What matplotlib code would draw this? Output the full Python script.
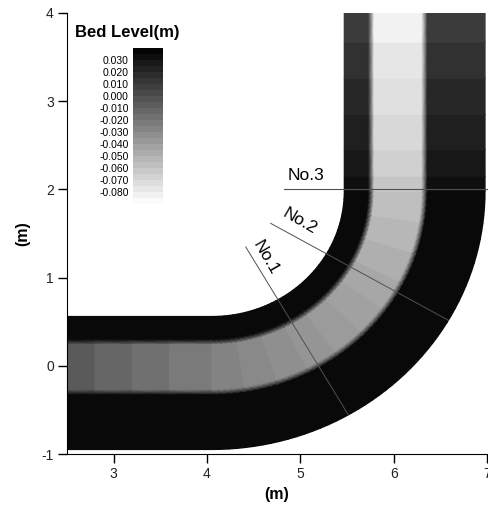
import numpy as np
import matplotlib
matplotlib.use('Agg')
import matplotlib.pyplot as plt
from matplotlib.colors import Normalize

plt.rcParams['font.family'] = ['Liberation Sans', 'DejaVu Sans']
plt.rcParams['axes.unicode_minus'] = False

# ---- channel geometry (m) ----
xc, yc = 4.05, 1.98          # centre of the 90 deg bend
r_in, width = 1.42, 1.51     # inner bank radius, channel width

# streamwise cell edges of the three reaches
lower_x = [2.5, 2.8, 3.2, 3.6, 4.05]
bend_deg = [-90, -81, -72, -63, -54, -45, -36, -27, -18, -9, 0]
upper_y = [1.98, 2.15, 2.45, 2.85, 3.26, 3.67, 4.0]

# bed level in the scour trough and on the bank bars, per cell (m)
lower_trough = [-0.006, -0.012, -0.017, -0.022]
bend_trough = [-0.027, -0.030, -0.033, -0.036, -0.039, -0.042, -0.045, -0.049, -0.053, -0.057]
upper_trough = [-0.061, -0.066, -0.070, -0.074, -0.077, -0.083]
lower_bank = [0.035, 0.035, 0.035, 0.035]
bend_bank = [0.035, 0.035, 0.035, 0.035, 0.035, 0.035, 0.035, 0.035, 0.035, 0.035]
upper_bank = [0.032, 0.028, 0.024, 0.020, 0.015, 0.010]

# cross-section: distance from inner bank and share of trough level
cross_n = [0.0, 0.26, 0.32, 0.83, 0.89, 1.51]
cross_w = [0.0, 0.0, 1.0, 1.0, 0.0, 0.0]

# legend
cbar_ticks = [0.030, 0.020, 0.010, 0.000, -0.010, -0.020, -0.030,
              -0.040, -0.050, -0.060, -0.070, -0.080]
vmin, vmax = -0.09, 0.04

# measuring sections: name, angle in bend (deg)
sec_names = ['No.1', 'No.2']
sec_deg = [-60, -30]
sec3_y = 2.0

n = np.array(cross_n)
w = np.array(cross_w)
r = r_in + n

X, Y, Z = [], [], []


def add_row(px, py, trough, bank):
    X.append(px)
    Y.append(py)
    Z.append(bank + (trough - bank) * w)


for i in range(len(lower_x) - 1):
    for x in (lower_x[i], lower_x[i + 1]):
        add_row(np.full_like(n, x), yc - r, lower_trough[i], lower_bank[i])

for i in range(len(bend_deg) - 1):
    for a in np.radians(np.linspace(bend_deg[i], bend_deg[i + 1], 6)):
        add_row(xc + r * np.cos(a), yc + r * np.sin(a), bend_trough[i], bend_bank[i])

for i in range(len(upper_y) - 1):
    for y in (upper_y[i], upper_y[i + 1]):
        add_row(xc + r, np.full_like(n, y), upper_trough[i], upper_bank[i])

X, Y, Z = np.array(X), np.array(Y), np.array(Z)

fig = plt.figure(figsize=(4.89, 5.12), dpi=100)
ax = fig.add_axes([67 / 489, 1 - 454 / 512, 420 / 489, 441 / 512])

norm = Normalize(vmin=vmin, vmax=vmax)
ax.pcolormesh(X, Y, Z, shading='gouraud', cmap='gray_r', norm=norm)

# section lines
lc = '#505050'
for name, d in zip(sec_names, sec_deg):
    a = np.radians(d)
    rr = np.array([0.73, r_in + width])
    ax.plot(xc + rr * np.cos(a), yc + rr * np.sin(a), color=lc, lw=0.7)
ax.plot([4.82, 7.0], [sec3_y, sec3_y], color=lc, lw=0.8, clip_on=False)

ax.text(4.63, 1.22, 'No.1', rotation=-60, fontsize=12.5, ha='center', va='center',
        rotation_mode='anchor')
ax.text(4.99, 1.64, 'No.2', rotation=-30, fontsize=12.5, ha='center', va='center',
        rotation_mode='anchor')
ax.text(5.06, 2.16, 'No.3', fontsize=12.5, ha='center', va='center')

ax.set_xlim(2.5, 7)
ax.set_ylim(-1, 4)
ax.set_xticks([3, 4, 5, 6, 7])
ax.set_yticks([-1, 0, 1, 2, 3, 4])
for s in ('top', 'right'):
    ax.spines[s].set_visible(False)
ax.tick_params(direction='out', length=6.5, width=1, labelsize=10, pad=3,
               labelcolor='#222222')
ax.set_xlabel('(m)', fontsize=11.5, fontweight='bold', labelpad=4)
ax.set_ylabel('(m)', fontsize=11.5, fontweight='bold', labelpad=8)

# stepped legend bar
levels = np.linspace(vmin, vmax, 27)
centers = (levels[:-1] + levels[1:]) / 2
cax = fig.add_axes([133 / 489, 1 - 204 / 512, 30 / 489, 156 / 512])
cax.pcolormesh([0, 1], levels, centers.reshape(-1, 1), cmap='gray_r', norm=norm)
cax.set_ylim(vmin, vmax)
cax.set_xticks([])
cax.set_yticks(cbar_ticks)
cax.set_yticklabels([f'{t:.3f}' for t in cbar_ticks])
cax.tick_params(length=0, pad=3, labelsize=7.5)
for s in cax.spines.values():
    s.set_visible(False)
fig.text(75 / 489, 1 - 33 / 512, 'Bed Level(m)', fontsize=12, fontweight='bold',
         va='center', ha='left')

fig.savefig('out.png', dpi=100)
